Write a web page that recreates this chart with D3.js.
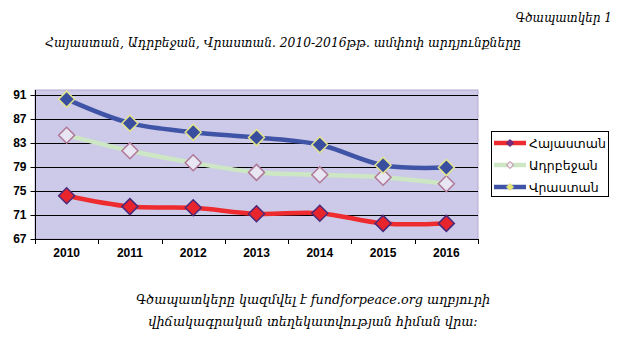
<!DOCTYPE html>
<html><head><meta charset="utf-8">
<script src="https://cdn.jsdelivr.net/npm/d3@7"></script>
<style>
body{margin:0;background:#fff;}
svg{display:block;}
</style></head>
<body>
<svg id="chart" width="630" height="354"></svg>
<script>
const years = ["2010","2011","2012","2013","2014","2015","2016"];
const seriesNames = ["Հայաստան","Ադրբեջան","Վրաստան"];
const armenia = [74.2,72.4,72.2,71.2,71.3,69.6,69.6];
const azerbaijan = [84.3,81.7,79.7,78.1,77.7,77.3,76.2];
const georgia = [90.3,86.3,84.8,83.9,82.7,79.3,78.9];
const yTicks = [67,71,75,79,83,87,91];
const titleTop = "Գծապատկեր 1";
const titleMain = "Հայաստան, Ադրբեջան, Վրաստան. 2010-2016թթ. ամփոփ արդյունքները";
const footer = ["Գծապատկերը կազմվել է fundforpeace.org աղբյուրի","վիճակագրական տեղեկատվության հիման վրա:"];

const styles = [
  {line:"#ee2b2e", fill:"#e8242c", stroke:"#4a2a7a", lfill:"#7a2a80"},
  {line:"#cde6c4", fill:"#e8e6f2", stroke:"#b07898", lfill:"#f4eef4"},
  {line:"#3f54a6", fill:"#3a4ea0", stroke:"#e4e48a", lfill:"#e8e870"}
];
const data = [armenia, azerbaijan, georgia];

const svg = d3.select("#chart");
const L=35, R=478, T=90, B=239;
const x = d3.scaleBand().domain(years).range([L,R]);
const y = d3.scaleLinear().domain([67, 91.83]).range([B,T]);

svg.append("text").attr("x",612).attr("y",22).attr("text-anchor","end")
  .attr("font-family","DejaVu Serif").attr("font-style","italic").attr("font-size",12).text(titleTop);
svg.append("text").attr("x",283).attr("y",47).attr("text-anchor","middle")
  .attr("font-family","DejaVu Serif").attr("font-style","italic").attr("font-size",12.3).text(titleMain);

svg.append("rect").attr("x",L).attr("y",T).attr("width",R-L).attr("height",B-T)
  .attr("fill","#cccae8").attr("stroke","#b8a8d0").attr("stroke-width",1);

svg.append("g").selectAll("line").data(yTicks.slice(1)).join("line")
  .attr("x1",L).attr("x2",R).attr("y1",d=>Math.round(y(d))+0.5).attr("y2",d=>Math.round(y(d))+0.5)
  .attr("stroke","#000").attr("stroke-width",1);

const yAxis = svg.append("g").attr("transform",`translate(${L+0.5},0)`)
  .call(d3.axisLeft(y).tickValues(yTicks).tickSize(5).tickSizeOuter(0));
yAxis.select(".domain").attr("d",`M0,${T}V${B}`);
yAxis.selectAll("text").attr("font-family","Liberation Sans").attr("font-weight","bold").attr("font-size",12).attr("fill","#000").attr("dx",-1);

const xAxis = svg.append("g").attr("transform",`translate(0,${B+0.5})`)
  .call(d3.axisBottom(x).tickSize(0).tickSizeOuter(0));
xAxis.selectAll("text").attr("font-family","Liberation Sans").attr("font-weight","bold").attr("font-size",12).attr("fill","#000").attr("dy",14);
xAxis.select(".domain").remove();
svg.append("line").attr("x1",L).attr("x2",R+1).attr("y1",B+0.5).attr("y2",B+0.5).attr("stroke","#000");
const bounds = years.map(d=>x(d)).concat([R]);
svg.append("g").selectAll("line").data(bounds).join("line")
  .attr("x1",d=>Math.round(d)+0.5).attr("x2",d=>Math.round(d)+0.5).attr("y1",B).attr("y2",B+5).attr("stroke","#000");

const line = d3.line().x((d,i)=>x(years[i])+x.bandwidth()/2).y(d=>y(d)).curve(d3.curveCatmullRom.alpha(0.5));
const diamond = (cx,cy,r)=>`M${cx},${cy-r}L${cx+r},${cy}L${cx},${cy+r}L${cx-r},${cy}Z`;

data.forEach((vals,si)=>{
  const st = styles[si];
  svg.append("path").datum(vals).attr("d",line).attr("fill","none")
    .attr("stroke",st.line).attr("stroke-width",4.5).attr("stroke-linecap","round");
});
data.forEach((vals,si)=>{
  const st = styles[si];
  svg.append("g").selectAll("path").data(vals).join("path")
    .attr("d",(d,i)=>diamond(x(years[i])+x.bandwidth()/2, y(d), 8))
    .attr("fill",st.fill).attr("stroke",st.stroke).attr("stroke-width",1.5);
});

// legend
const lg = svg.append("g");
lg.append("rect").attr("x",491.5).attr("y",131.5).attr("width",117).attr("height",65)
  .attr("fill","#fff").attr("stroke","#000").attr("stroke-width",1);
seriesNames.forEach((n,i)=>{
  const st = styles[i];
  const cy = 143 + i*22;
  lg.append("line").attr("x1",494).attr("x2",526).attr("y1",cy).attr("y2",cy)
    .attr("stroke",st.line).attr("stroke-width",4.5);
  lg.append("path").attr("d",diamond(510,cy,3.5)).attr("fill",st.lfill).attr("stroke",st.stroke).attr("stroke-width",1);
  lg.append("text").attr("x",529).attr("y",cy+4.5).attr("font-family","DejaVu Sans").attr("font-size",12.5).attr("fill","#000").text(n);
});

footer.forEach((t,i)=>{
  svg.append("text").attr("x",313).attr("y",304+i*22).attr("text-anchor","middle")
    .attr("font-family","DejaVu Serif").attr("font-style","italic").attr("font-size",12.8).text(t);
});
</script>
</body></html>
